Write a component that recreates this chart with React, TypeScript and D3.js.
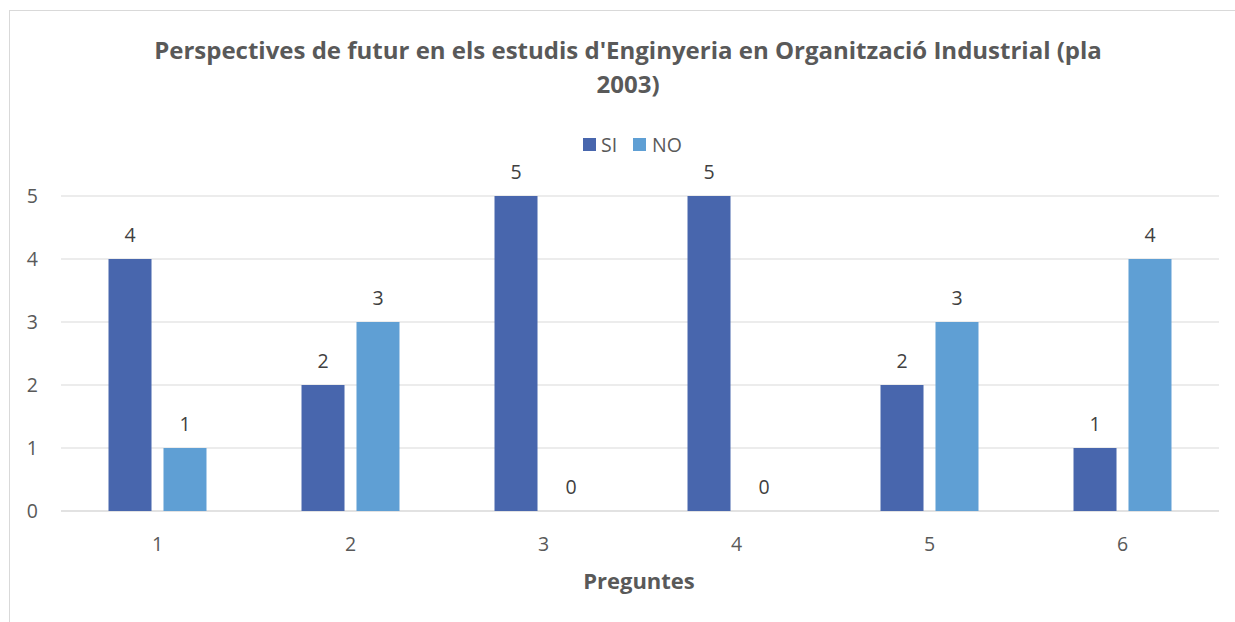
import { scaleBand, scaleLinear } from 'd3'

const categories = ['1', '2', '3', '4', '5', '6']
const seriesNames = ['SI', 'NO']
const siValues = [4, 2, 5, 5, 2, 1]
const noValues = [1, 3, 0, 0, 3, 4]
const yTickValues = [0, 1, 2, 3, 4, 5]
const titleLines = ["Perspectives de futur en els estudis d'Enginyeria en Organització Industrial (pla", '2003)']
const xAxisTitle = 'Preguntes'

const width = 1235
const height = 622
const plot = { left: 61, right: 1219, top: 196, bottom: 511 }
const colors: Record<string, string> = { SI: '#4866AD', NO: '#5F9FD4' }
const font = '"Open Sans", sans-serif'
const textGray = '#595959'
const labelSize = 19.5

const App = () => {
  const x = scaleBand().domain(categories).range([plot.left, plot.right]).padding(0)
  const inner = scaleBand()
    .domain(seriesNames)
    .range([0, x.bandwidth()])
    .paddingInner(0.218)
    .paddingOuter(0.864)
  const y = scaleLinear().domain([0, 5]).range([plot.bottom, plot.top])

  const rows = categories.map((c, i) => ({ cat: c, SI: siValues[i], NO: noValues[i] }))
  const titleX = 628

  return (
    <svg
      width={width}
      height={height}
      style={{ position: 'fixed', left: 0, top: 0, background: 'white' }}
      fontFamily={font}
    >
      <rect x={9.5} y={10.5} width={1260} height={640} fill="white" stroke="#D9D9D9" />

      {titleLines.map((t, i) => (
        <text
          key={i}
          x={titleX}
          y={59 + i * 34}
          textAnchor="middle"
          fontSize={24}
          fontWeight="bold"
          fill={textGray}
        >
          {t}
        </text>
      ))}

      {/* legend */}
      <g>
        <rect x={583} y={138} width={13} height={13} fill={colors.SI} />
        <text x={601} y={152} fontSize={labelSize} fill={textGray}>SI</text>
        <rect x={633} y={138} width={13} height={13} fill={colors.NO} />
        <text x={652} y={152} fontSize={labelSize} fill={textGray}>NO</text>
      </g>

      {yTickValues.map((v) => (
        <g key={v} transform={`translate(0, ${y(v)})`}>
          <line x1={plot.left} x2={plot.right} stroke="#D9D9D9" strokeWidth={v === 0 ? 1.5 : 1} />
          <text x={38} dy="0.35em" textAnchor="end" fontSize={labelSize} fill={textGray}>
            {v}
          </text>
        </g>
      ))}

      {rows.map((r) => (
        <g key={r.cat} transform={`translate(${x(r.cat)}, 0)`}>
          {seriesNames.map((s) => {
            const v = r[s as 'SI' | 'NO']
            const bx = inner(s) ?? 0
            return (
              <g key={s}>
                <rect
                  x={bx}
                  y={y(v)}
                  width={inner.bandwidth()}
                  height={y(0) - y(v)}
                  fill={colors[s]}
                />
                <text
                  x={bx + inner.bandwidth() / 2}
                  y={y(v) - 17}
                  textAnchor="middle"
                  fontSize={labelSize}
                  fill="#404040"
                >
                  {v}
                </text>
              </g>
            )
          })}
          <text x={x.bandwidth() / 2} y={551} textAnchor="middle" fontSize={labelSize} fill={textGray}>
            {r.cat}
          </text>
        </g>
      ))}

      <text x={639} y={589} textAnchor="middle" fontSize={22} fontWeight="bold" fill={textGray}>
        {xAxisTitle}
      </text>
    </svg>
  )
}

export default App
